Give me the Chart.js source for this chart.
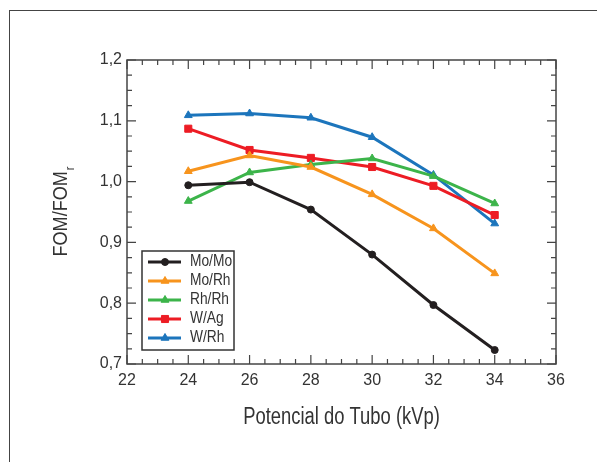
<!DOCTYPE html>
<html>
<head>
<meta charset="utf-8">
<script src="https://cdn.jsdelivr.net/npm/chart.js@4.4.1/dist/chart.umd.min.js"></script>
<style>
body{margin:0;background:#fff;}
#wrap{position:relative;width:597px;height:462px;overflow:hidden;}
#frame{position:absolute;left:9px;top:10px;width:700px;height:600px;border:1.5px solid #444;}
canvas{position:absolute;left:0;top:0;}
</style>
</head>
<body>
<div id="wrap"><div id="frame"></div><canvas id="mycanvas" width="597" height="462"></canvas></div>
<script>
var FONT = '"Liberation Sans", Arial, sans-serif';
var TXT = '#333';
var NARROW = 0.86;

// data
var kvp = [24, 26, 28, 30, 32, 34];
var moMo = [0.994, 0.999, 0.954, 0.880, 0.797, 0.723];
var moRh = [1.017, 1.043, 1.024, 0.979, 0.923, 0.849];
var rhRh = [0.968, 1.015, 1.028, 1.038, 1.009, 0.964];
var wAg  = [1.087, 1.052, 1.039, 1.024, 0.993, 0.945];
var wRh  = [1.109, 1.112, 1.105, 1.073, 1.011, 0.931];

var seriesNames = ['Mo/Mo', 'Mo/Rh', 'Rh/Rh', 'W/Ag', 'W/Rh'];
var seriesData = [moMo, moRh, rhRh, wAg, wRh];
var colors = ['#231f20', '#f7941d', '#3cb44a', '#ed1c24', '#1c75bc'];
var markers = ['circle', 'triangle', 'triangle', 'rect', 'triangle'];
var markerSize = [3.5, 4.5, 4.5, 5, 4.5];

var xMin = 22, xMax = 36, xStep = 2;
var yMin = 0.7, yMax = 1.2, yStep = 0.1;

var datasets = [];
for (var s = 0; s < seriesNames.length; s++) {
	var pts = [];
	for (var i = 0; i < kvp.length; i++) {
		pts.push({x: kvp[i], y: seriesData[s][i]});
	}
	datasets.push({
		label: seriesNames[s],
		data: pts,
		borderColor: colors[s],
		backgroundColor: colors[s],
		borderWidth: 3,
		pointStyle: markers[s],
		pointRadius: markerSize[s],
		pointBorderWidth: 1,
		tension: 0
	});
}

function marker(ctx, type, x, y, r, color) {
	ctx.fillStyle = color;
	ctx.strokeStyle = color;
	ctx.lineWidth = 1;
	ctx.beginPath();
	if (type == 'circle') {
		ctx.arc(x, y, r, 0, Math.PI * 2);
	} else if (type == 'rect') {
		var h = r * Math.SQRT1_2;
		ctx.rect(x - h, y - h, 2 * h, 2 * h);
	} else {
		var a = 0;
		ctx.moveTo(x + Math.sin(a) * r, y - Math.cos(a) * r);
		a += Math.PI * 2 / 3;
		ctx.lineTo(x + Math.sin(a) * r, y - Math.cos(a) * r);
		a += Math.PI * 2 / 3;
		ctx.lineTo(x + Math.sin(a) * r, y - Math.cos(a) * r);
		ctx.closePath();
	}
	ctx.fill();
	ctx.stroke();
}

// condensed text: squeeze horizontally around (x, y)
function narrowText(ctx, text, x, y, k) {
	ctx.save();
	ctx.translate(x, y);
	ctx.scale(k || NARROW, 1);
	ctx.fillText(text, 0, 0);
	ctx.restore();
}

var decor = {
	id: 'decor',
	afterDraw: function(chart) {
		var ctx = chart.ctx;
		var a = chart.chartArea;
		var xs = chart.scales.x, ys = chart.scales.y;
		ctx.save();

		// plot frame
		ctx.strokeStyle = '#444';
		ctx.lineWidth = 1.5;
		ctx.strokeRect(a.left, a.top, a.right - a.left, a.bottom - a.top);

		// inner ticks on all sides
		ctx.lineWidth = 1.2;
		ctx.beginPath();
		for (var i = 0; i <= 28; i++) {
			var px = xs.getPixelForValue(xMin + i * 0.5);
			var len = (i % 4 == 0) ? 9 : 5;
			ctx.moveTo(px, a.bottom); ctx.lineTo(px, a.bottom - len);
			ctx.moveTo(px, a.top); ctx.lineTo(px, a.top + len);
		}
		for (var j = 0; j <= 20; j++) {
			var py = ys.getPixelForValue(yMin + j * 0.025);
			var len2 = (j % 4 == 0) ? 9 : 5;
			ctx.moveTo(a.left, py); ctx.lineTo(a.left + len2, py);
			ctx.moveTo(a.right, py); ctx.lineTo(a.right - len2, py);
		}
		ctx.stroke();

		// axis titles
		ctx.fillStyle = TXT;
		ctx.font = '23px ' + FONT;
		ctx.textAlign = 'center';
		ctx.textBaseline = 'alphabetic';
		narrowText(ctx, 'Potencial do Tubo (kVp)', (a.left + a.right) / 2, 424, 0.8);

		ctx.save();
		ctx.translate(61, (a.top + a.bottom) / 2);
		ctx.rotate(-Math.PI / 2);
		ctx.scale(NARROW, 1);
		ctx.font = '21px ' + FONT;
		var w1 = ctx.measureText('FOM/FOM').width;
		ctx.font = '13px ' + FONT;
		var w2 = ctx.measureText('r').width;
		ctx.textAlign = 'left';
		ctx.textBaseline = 'middle';
		ctx.font = '21px ' + FONT;
		ctx.fillText('FOM/FOM', -(w1 + w2) / 2, 0);
		ctx.font = '13px ' + FONT;
		ctx.fillText('r', -(w1 + w2) / 2 + w1 + 1, 9);
		ctx.restore();

		// legend
		ctx.fillStyle = '#fff';
		ctx.fillRect(142, 251, 92, 99);
		ctx.strokeStyle = '#333';
		ctx.lineWidth = 1.5;
		ctx.strokeRect(142, 251, 92, 99);
		ctx.font = '16px ' + FONT;
		ctx.textAlign = 'left';
		ctx.textBaseline = 'middle';
		for (var k = 0; k < seriesNames.length; k++) {
			var ly = 262 + k * 19;
			ctx.strokeStyle = colors[k];
			ctx.lineWidth = 3;
			ctx.beginPath();
			ctx.moveTo(148, ly); ctx.lineTo(181, ly);
			ctx.stroke();
			marker(ctx, markers[k], 165, ly, markerSize[k], colors[k]);
			ctx.fillStyle = TXT;
			narrowText(ctx, seriesNames[k], 190, ly);
		}
		ctx.restore();
	}
};

var ctx = document.getElementById('mycanvas');
var chart = new Chart(ctx, {
	type: 'line',
	data: {datasets: datasets},
	options: {
		responsive: false,
		animation: false,
		layout: {padding: {top: 60, right: 41, left: 0, bottom: 0}},
		plugins: {legend: {display: false}, tooltip: {enabled: false}},
		scales: {
			x: {
				type: 'linear', min: xMin, max: xMax,
				grid: {display: false, drawTicks: false},
				border: {display: false},
				ticks: {stepSize: xStep, padding: 7, color: TXT, font: {family: FONT, size: 16}},
				afterFit: function(sc) { sc.height = 462 - 364; }
			},
			y: {
				type: 'linear', min: yMin, max: yMax,
				grid: {display: false, drawTicks: false},
				border: {display: false},
				ticks: {
					stepSize: yStep, padding: 5, color: TXT, font: {family: FONT, size: 16},
					callback: function(v) { return v.toFixed(1).replace('.', ','); }
				},
				afterFit: function(sc) { sc.width = 127; }
			}
		}
	},
	plugins: [decor]
});
</script>
</body>
</html>
